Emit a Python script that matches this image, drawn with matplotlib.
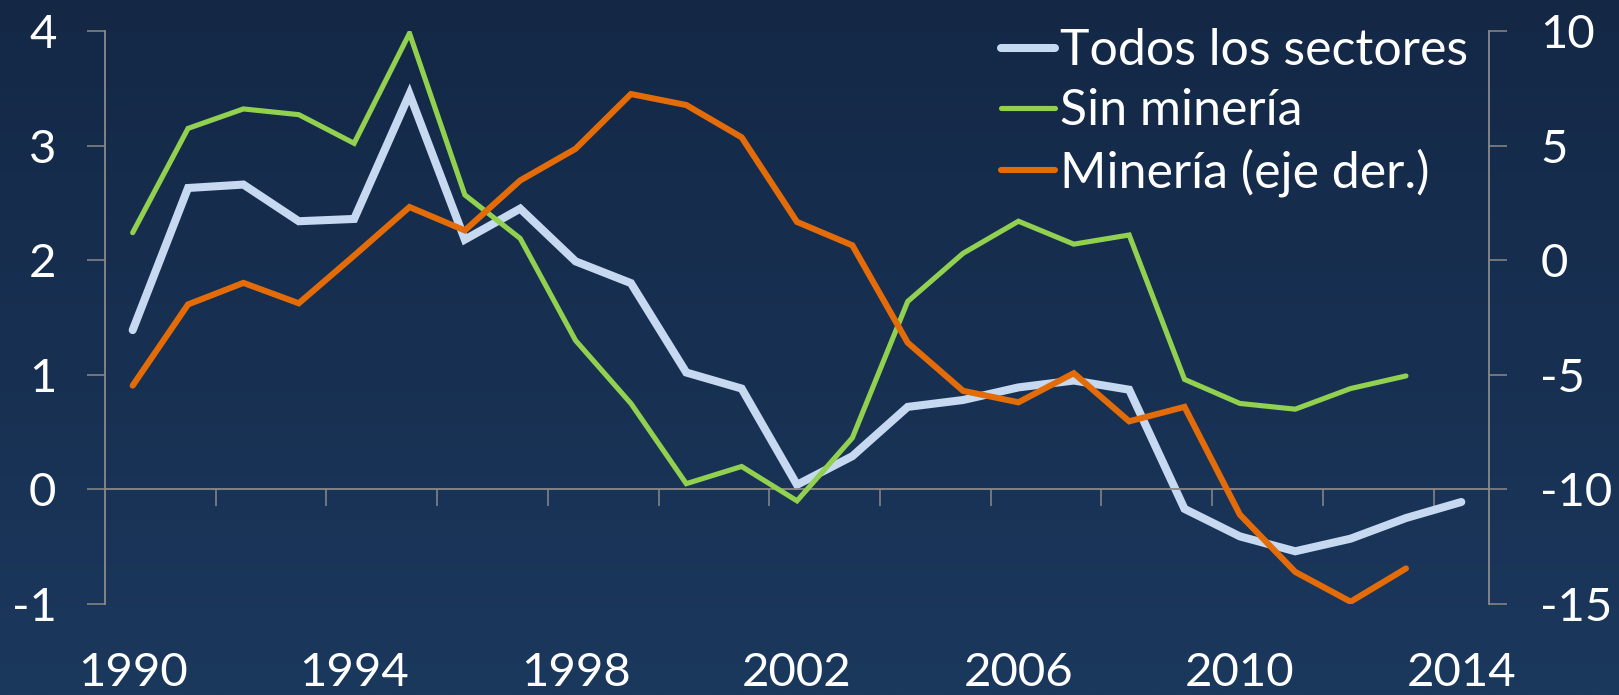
import numpy as np
import matplotlib
matplotlib.use("Agg")
import matplotlib.pyplot as plt

# datos
years = list(range(1990, 2015))
todos = [1.39, 2.63, 2.66, 2.34, 2.36, 3.45, 2.18, 2.45, 1.99, 1.80,
         1.02, 0.88, 0.04, 0.29, 0.72, 0.78, 0.89, 0.95, 0.87, -0.17,
         -0.41, -0.54, -0.43, -0.25, -0.11]
sin_mineria = [2.24, 3.15, 3.32, 3.27, 3.02, 3.98, 2.57, 2.19, 1.30, 0.75,
               0.05, 0.20, -0.10, 0.45, 1.64, 2.06, 2.34, 2.14, 2.22, 0.96,
               0.75, 0.70, 0.88, 0.99]
mineria = [-5.47, -1.93, -0.99, -1.88, 0.20, 2.32, 1.30, 3.48, 4.86, 7.25,
           6.77, 5.36, 1.67, 0.65, -3.60, -5.70, -6.20, -4.93, -7.03, -6.40,
           -11.10, -13.60, -14.90, -13.45]

labels = ["Todos los sectores", "Sin minería", "Minería (eje der.)"]
left_ticks = [-1, 0, 1, 2, 3, 4]
right_ticks = [-15, -10, -5, 0, 5, 10]
year_labels = [1990, 1994, 1998, 2002, 2006, 2010, 2014]

plt.rcParams["font.family"] = ["Lato", "DejaVu Sans"]
plt.rcParams["axes.unicode_minus"] = False

axis_gray = "#8a8a8a"
fs = 34

fig = plt.figure(figsize=(16.19, 6.95), dpi=100)

# fondo degradado
bg = fig.add_axes([0, 0, 1, 1], zorder=-10)
grad = np.linspace(0, 1, 256).reshape(-1, 1)
top = np.array([20, 40, 70]) / 255
bottom = np.array([27, 56, 93]) / 255
img = top + (bottom - top) * grad[..., None]
bg.imshow(img, aspect="auto", extent=[0, 1, 0, 1])
bg.axis("off")

ax = fig.add_axes([105 / 1619, 1 - 604 / 695, (1489 - 105) / 1619, (604 - 31) / 695])
ax.patch.set_alpha(0)
ax2 = ax.twinx()
ax2.patch.set_alpha(0)

l1, = ax.plot(years, todos, color="#c6d9f1", lw=5.8, solid_capstyle="round",
              solid_joinstyle="miter", label=labels[0], zorder=2)
l2, = ax.plot(years[:len(sin_mineria)], sin_mineria, color="#92d050", lw=3.7,
              solid_capstyle="round", solid_joinstyle="miter", label=labels[1], zorder=3)
l3, = ax2.plot(years[:len(mineria)], mineria, color="#e36c09", lw=4.4,
               solid_capstyle="round", solid_joinstyle="miter", label=labels[2], zorder=4)

ax.set_xlim(1989.5, 2014.5)
ax.set_ylim(-1, 4)
ax2.set_ylim(-15, 10)

# ejes
for s in ["top", "right"]:
    ax.spines[s].set_visible(False)
ax.spines["left"].set_color(axis_gray)
ax.spines["left"].set_linewidth(1.3)
ax.spines["bottom"].set_position(("data", 0))
ax.spines["bottom"].set_color(axis_gray)
ax.spines["bottom"].set_linewidth(1.3)
for s in ["top", "left", "bottom"]:
    ax2.spines[s].set_visible(False)
ax2.spines["right"].set_color(axis_gray)
ax2.spines["right"].set_linewidth(1.3)

ax.set_yticks(left_ticks)
ax.set_yticklabels([str(v) for v in left_ticks])
ax.tick_params(axis="y", direction="out", length=13, width=1.1, color=axis_gray,
               labelcolor="white", labelsize=fs, pad=22)
ax2.set_yticks(right_ticks)
ax2.set_yticklabels([str(v) for v in right_ticks])
ax2.tick_params(axis="y", direction="out", length=13, width=1.1, color=axis_gray,
                labelcolor="white", labelsize=fs, pad=24)

ax.set_xticks(year_labels)
ax.set_xticklabels([str(v) for v in year_labels])
ax.set_xticks(np.arange(1991.5, 2014, 2), minor=True)
ax.tick_params(axis="x", which="major", length=0, labelcolor="white",
               labelsize=fs, pad=117)
ax.tick_params(axis="x", which="minor", direction="out", length=12, width=1.1,
               color=axis_gray)

leg = fig.legend(handles=[l1, l2, l3], loc="upper right",
                 bbox_to_anchor=(1468 / 1619, 1 - 28 / 695), frameon=False,
                 fontsize=36, handlelength=1.07, handletextpad=0.1,
                 labelspacing=0.28, borderpad=0, borderaxespad=0)
for t in leg.get_texts():
    t.set_color("white")

fig.savefig("out.png", dpi=100)
